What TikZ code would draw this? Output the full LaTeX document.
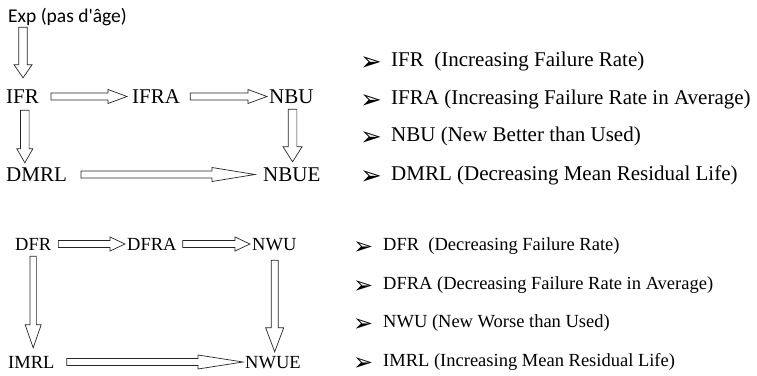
\documentclass[tikz,border=0pt]{standalone}
\usepackage{fontspec}
\setmainfont{Liberation Serif}
\newfontfamily\calfont{Carlito}[Ligatures=TeXOff]
\newfontfamily\dejafont{DejaVu Sans}
\usetikzlibrary{calc}
\tikzset{
  blk/.style={draw=black!85, line width=0.7pt, fill=white},
  lbA/.style={inner sep=0pt, anchor=base west, font=\fontsize{21}{24}\selectfont, text height=13pt, text depth=0pt},
  lbB/.style={inner sep=0pt, anchor=base west, font=\fontsize{18.5}{22}\selectfont, text height=12pt, text depth=0pt},
  liA/.style={inner sep=0pt, anchor=base west, font=\fontsize{21}{24}\selectfont},
  liB/.style={inner sep=0pt, anchor=base west, font=\fontsize{18.5}{22}\selectfont, text depth=3pt},
  bulA/.style={inner sep=0pt, anchor=base west, font=\dejafont\fontsize{26}{28}\selectfont, text height=14pt, text depth=0pt},
  bulB/.style={inner sep=0pt, anchor=base west, font=\dejafont\fontsize{24}{26}\selectfont, text height=13pt, text depth=0pt}
}
\newcommand\harr[5]{\draw[blk] let \p1=(#1), \p2=(#2) in
  (\x1,\y1+#3pt) -- (\x2-#5pt,\y1+#3pt) -- (\x2-#5pt,\y1+#4pt) -- (\x2,\y1)
  -- (\x2-#5pt,\y1-#4pt) -- (\x2-#5pt,\y1-#3pt) -- (\x1,\y1-#3pt) -- cycle;}
\newcommand\varr[5]{\draw[blk] let \p1=(#1), \p2=(#2) in
  (\x1-#3pt,\y1) -- (\x1-#3pt,\y2+#5pt) -- (\x1-#4pt,\y2+#5pt) -- (\x1,\y2)
  -- (\x1+#4pt,\y2+#5pt) -- (\x1+#3pt,\y2+#5pt) -- (\x1+#3pt,\y1) -- cycle;}
\begin{document}
\begin{tikzpicture}[x=1pt,y=-1pt]
\useasboundingbox (0,0) rectangle (757,375);
% top diagram
\node[inner sep=0pt, anchor=base west, font=\calfont\fontsize{19.5}{22}\selectfont, text depth=0pt] (exp) at (8,22) {Exp (pas d'âge)};
\node[lbA] (ifr) at (6,103) {IFR};
\node[lbA] (ifra) at (132,103) {IFRA};
\node[lbA] (nbu) at (269,103) {NBU};
\node[lbA] (dmrl) at (6,181) {DMRL};
\node[lbA] (nbue) at (263,181) {NBUE};
\varr{$(exp.south -| ifr.north)+(0.5,5)$}{$(ifr.north)+(0,-12)$}{4.3}{9}{13}
\harr{$(ifr.east)+(12,0)$}{$(ifra.west)+(-5,0)$}{3.5}{7}{19}
\harr{$(ifra.east)+(10,0)$}{$(nbu.west)+(-2,0)$}{3.5}{7}{19}
\varr{$(ifr.south)+(2.3,7)$}{$(dmrl.north)+(0,-5)$}{4.3}{8}{14}
\varr{$(nbu.south)+(1.2,6)$}{$(nbue.north)+(0,-6)$}{4.3}{9.5}{15}
\harr{$(dmrl.east)+(14,0)$}{$(nbue.west)+(-8,0)$}{3.5}{7}{43}
% top list
\node[bulA] (ba1) at (360,70) {➢};
\node[liA] (la1) at (391,66) {IFR\hspace{0.25em} (Increasing Failure Rate)};
\node[bulA] (ba2) at (360,108) {➢};
\node[liA] (la2) at (391,104) {IFRA (Increasing Failure Rate in Average)};
\node[bulA] (ba3) at (360,145) {➢};
\node[liA] (la3) at (391,141) {NBU (New Better than Used)};
\node[bulA] (ba4) at (360,184) {➢};
\node[liA] (la4) at (391,180) {DMRL (Decreasing Mean Residual Life)};
% bottom list
\node[bulB] (bb1) at (353,254) {➢};
\node[liB] (lb1) at (383,250) {DFR\hspace{0.25em} (Decreasing Failure Rate)};
\node[bulB] (bb2) at (353,293) {➢};
\node[liB] (lb2) at (383,289) {DFRA (Decreasing Failure Rate in Average)};
\node[bulB] (bb3) at (353,331) {➢};
\node[liB] (lb3) at (383,327) {NWU (New Worse than Used)};
\node[bulB] (bb4) at (353,370) {➢};
\node[liB] (lb4) at (383,366) {IMRL (Increasing Mean Residual Life)};
% bottom diagram
\node[lbB] (dfr) at (15,250) {DFR};
\node[lbB] (dfra) at (127,250) {DFRA};
\node[lbB] (nwu) at (252,250) {NWU};
\node[lbB] (imrl) at (8,368) {IMRL};
\node[lbB] (nwue) at (245,368) {NWUE};
\harr{$(dfr.east)+(7,0)$}{$(dfra.west)+(-2,0)$}{3.5}{7}{15}
\harr{$(dfra.east)+(6,0)$}{$(nwu.west)+(-2,0)$}{3.5}{7}{15}
\varr{$(dfr.south)+(0,6)$}{$(imrl.north)+(0,-8)$}{3.2}{8}{23}
\varr{$(nwu.south)+(0.4,10)$}{$(nwue.north)+(0,-4)$}{3.5}{9}{24}
\harr{$(imrl.east)+(12,0)$}{$(nwue.west)+(-2,0)$}{3.5}{7}{45}
\end{tikzpicture}
\end{document}
